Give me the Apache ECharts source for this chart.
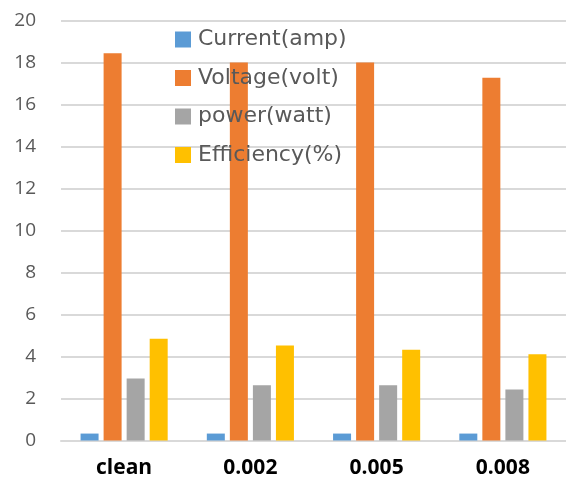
<!DOCTYPE html>
<html>
<head>
<meta charset="utf-8">
<script src="https://cdn.jsdelivr.net/npm/echarts@6/dist/echarts.min.js"></script>
<style>html,body{margin:0;padding:0;background:#fff;}#c{width:566px;height:488px;}</style>
</head>
<body>
<div id="c"></div>
<script>
const categories = ['clean', '0.002', '0.005', '0.008'];
const current = [0.33, 0.33, 0.33, 0.33];
const voltage = [18.44, 18.0, 18.0, 17.27];
const power = [2.95, 2.63, 2.63, 2.43];
const efficiency = [4.84, 4.52, 4.32, 4.11];
const seriesNames = ['Current(amp)', 'Voltage(volt)', 'power(watt)', 'Efficiency(%)'];
const colors = ['#5b9bd5', '#ed7d31', '#a5a5a5', '#ffc000'];

const chart = echarts.init(document.getElementById('c'));
const data = [current, voltage, power, efficiency];
chart.setOption({
  animation: false,
  color: colors,
  grid: { left: 61, right: -2, top: 20.5, bottom: 47.5, containLabel: false },
  legend: {
    orient: 'vertical',
    left: 170, top: 23.5,
    itemWidth: 16, itemHeight: 16, itemGap: 16.5,
    icon: 'rect',
    textStyle: { fontFamily: 'DejaVu Sans', fontSize: 22, color: '#595959', padding: [0,0,0,2] },
    data: seriesNames
  },
  xAxis: {
    type: 'category', data: categories,
    axisLine: { lineStyle: { color: '#d9d9d9', width: 2 } },
    axisTick: { show: false },
    axisLabel: { fontFamily: 'Open Sans', fontWeight: 'bold', fontSize: 21, color: '#000', margin: 17 }
  },
  yAxis: {
    type: 'value', min: 0, max: 20, interval: 2,
    axisLine: { show: false }, axisTick: { show: false },
    splitLine: { lineStyle: { color: '#d9d9d9', width: 2 } },
    axisLabel: { fontFamily: 'Open Sans', fontSize: 19, color: '#595959', margin: 25 }
  },
  series: seriesNames.map((n, i) => ({
    name: n, type: 'bar', data: data[i],
    barWidth: 18, barGap: '28%'
  }))
});
</script>
</body>
</html>
